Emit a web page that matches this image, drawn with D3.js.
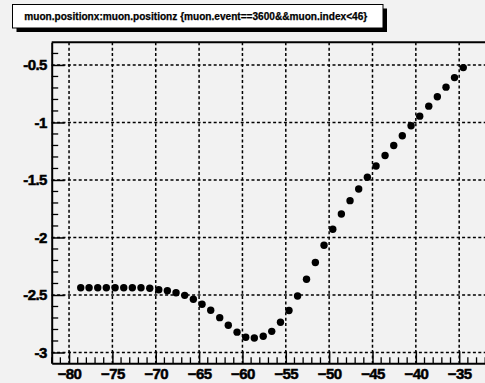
<!DOCTYPE html>
<html>
<head>
<meta charset="utf-8">
<script src="https://cdn.jsdelivr.net/npm/d3@7"></script>
<style>
  html, body { margin: 0; padding: 0; background: #f2f2f2; overflow: hidden; }
  svg { display: block; }
  text { font-family: "Liberation Sans", Arial, Helvetica, sans-serif; font-weight: bold; }
</style>
</head>
<body>
<svg id="chart" width="485" height="383"></svg>
<script>
// muon.positionz (x) vs muon.positionx (y) for event 3600
const posZ = [
  -78.65, -77.69, -76.69, -75.70, -74.69, -73.69, -72.70, -71.70, -70.69, -69.65,
  -68.66, -67.66, -66.66, -65.66, -64.66, -63.66, -62.62, -61.63, -60.62, -59.62,
  -58.63, -57.60, -56.62, -55.61, -54.63, -53.64, -52.61, -51.59, -50.59, -49.58,
  -48.59, -47.59, -46.59, -45.59, -44.59, -43.55, -42.55, -41.56, -40.55, -39.55,
  -38.51, -37.52, -36.52, -35.54, -34.53
];
const posX = [
  -2.437, -2.437, -2.437, -2.437, -2.437, -2.437, -2.437, -2.437, -2.442, -2.454,
  -2.463, -2.480, -2.503, -2.537, -2.580, -2.633, -2.697, -2.763, -2.823, -2.867,
  -2.874, -2.859, -2.816, -2.737, -2.635, -2.509, -2.363, -2.217, -2.067, -1.929,
  -1.796, -1.680, -1.578, -1.477, -1.378, -1.287, -1.200, -1.115, -1.029, -0.945,
  -0.858, -0.776, -0.693, -0.610, -0.523
];
const xTicks = [-80, -75, -70, -65, -60, -55, -50, -45, -40, -35];
const yTicks = [-3, -2.5, -2, -1.5, -1, -0.5];
const xDomain = [-82, -32];
const yDomain = [-3.094, -0.303];
const title = "muon.positionx:muon.positionz {muon.event==3600&&muon.index<46}";

const svg = d3.select("#chart");
const padL = 51.7, padR = 485.2, padT = 42.3, padB = 363.3;

const x = d3.scaleLinear().domain(xDomain).range([padL, padR]);
const y = d3.scaleLinear().domain(yDomain).range([padB, padT]);

// background
svg.append("rect").attr("width", 485).attr("height", 383).attr("fill", "#f2f2f2");

// grid
const grid = svg.append("g").attr("stroke", "#000").attr("stroke-width", 1.5)
  .attr("stroke-dasharray", "3,2.4");
grid.selectAll(".gx").data(xTicks).join("line")
  .attr("x1", d => x(d)).attr("x2", d => x(d))
  .attr("y1", padT).attr("y2", padB);
grid.selectAll(".gy").data(yTicks).join("line")
  .attr("x1", padL).attr("x2", padR)
  .attr("y1", d => y(d)).attr("y2", d => y(d));

// minor ticks (inside the frame)
const xMinor = d3.range(-82, -31.9, 1).filter(v => !xTicks.includes(v));
const yMinor = d3.range(-30, -3, 1).map(v => v / 10).filter(v => !yTicks.some(t => Math.abs(t - v) < 1e-9));

// bottom axis
const xAxis = d3.axisBottom(x).tickValues(xTicks).tickSizeInner(-12).tickSizeOuter(0)
  .tickPadding(5).tickFormat(d3.format("d"));
const gx = svg.append("g").attr("transform", `translate(0,${padB})`).call(xAxis);
gx.select(".domain").attr("stroke-width", 2);
gx.selectAll(".tick line").attr("stroke-width", 1.5);
gx.selectAll(".tick text").attr("font-size", 15).attr("font-family", "Liberation Sans, Arial, sans-serif")
  .attr("font-weight", "bold").attr("fill", "#000").attr("letter-spacing", -0.6)
  .attr("stroke", "#000").attr("stroke-width", 0.5);
gx.selectAll(".minor").data(xMinor).join("line")
  .attr("x1", d => x(d)).attr("x2", d => x(d))
  .attr("y1", 0).attr("y2", -6).attr("stroke", "#000").attr("stroke-width", 1.3);

// left axis
const yAxis = d3.axisLeft(y).tickValues(yTicks).tickSizeInner(-13).tickSizeOuter(0)
  .tickPadding(5).tickFormat(d => String(d));
const gy = svg.append("g").attr("transform", `translate(${padL},0)`).call(yAxis);
gy.select(".domain").attr("stroke-width", 2);
gy.selectAll(".tick line").attr("stroke-width", 1.5);
gy.selectAll(".tick text").attr("font-size", 15).attr("font-family", "Liberation Sans, Arial, sans-serif")
  .attr("font-weight", "bold").attr("fill", "#000").attr("letter-spacing", -0.6)
  .attr("stroke", "#000").attr("stroke-width", 0.5);
gy.selectAll(".minor").data(yMinor).join("line")
  .attr("x1", 0).attr("x2", 6.5)
  .attr("y1", d => y(d)).attr("y2", d => y(d)).attr("stroke", "#000").attr("stroke-width", 1.3);

// top frame edge
svg.append("line").attr("x1", padL).attr("x2", 485).attr("y1", padT).attr("y2", padT)
  .attr("stroke", "#000").attr("stroke-width", 2);

// markers
svg.append("g").selectAll("circle").data(posZ).join("circle")
  .attr("cx", d => x(d))
  .attr("cy", (d, i) => y(posX[i]))
  .attr("r", 3.7)
  .attr("fill", "#000");

// title box with drop shadow
const tb = { x: 12.5, y: 4.5, w: 370.5, h: 23.5 };
svg.append("rect").attr("x", tb.x + 4).attr("y", tb.y + 4).attr("width", tb.w).attr("height", tb.h)
  .attr("fill", "#000");
svg.append("rect").attr("x", tb.x).attr("y", tb.y).attr("width", tb.w).attr("height", tb.h)
  .attr("fill", "#fff").attr("stroke", "#000").attr("stroke-width", 1);
svg.append("text").attr("x", tb.x + tb.w / 2 - 2).attr("y", tb.y + tb.h / 2 + 3.5)
  .attr("text-anchor", "middle").attr("font-size", 10.1).attr("fill", "#000")
  .attr("stroke", "#000").attr("stroke-width", 0.25)
  .text(title);
</script>
</body>
</html>
